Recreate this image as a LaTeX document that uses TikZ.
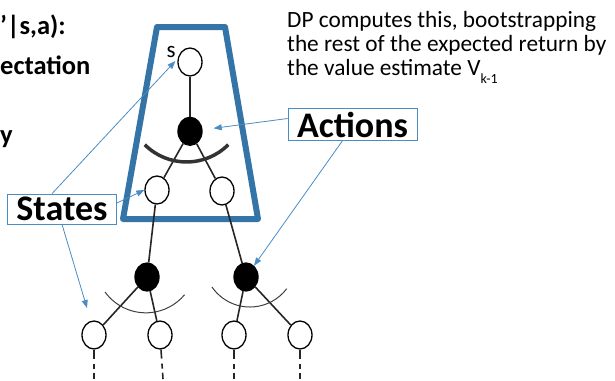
\documentclass[tikz,border=0pt]{standalone}
\usepackage{fontspec}
\setmainfont{Carlito}
\usepackage{tikz}
\usetikzlibrary{shapes.geometric}
\usetikzlibrary{arrows.meta}
\usetikzlibrary{positioning}
\definecolor{trapblue}{HTML}{3474A6}
\definecolor{callblue}{HTML}{4A8CC4}
\tikzset{
  StateNode/.style={ellipse,draw,line width=1.3pt,fill=white,minimum width=24pt,minimum height=28pt,inner sep=0pt},
  ActionNode/.style={StateNode,fill=black},
  Callout/.style={rectangle,draw=callblue,line width=0.8pt,font=\fontsize{36}{36}\selectfont\bfseries,inner xsep=9pt,inner ysep=3pt},
  Pointer/.style={draw=callblue,line width=0.8pt,-{Triangle[length=8pt,width=6pt]}},
  Branch/.style={line width=1.6pt,black!85},
  Cut/.style={anchor=base west,inner sep=0pt,font=\fontsize{26.5}{26.5}\selectfont\bfseries}
}

\begin{document}
\begin{tikzpicture}[x=1pt,y=1pt]
    \useasboundingbox (0,0) rectangle (615,-380);

    \node[Cut] (t1) at (0,-34) {’|s,a):};
    \node[Cut] (t2) at (0,-74) {ectation};
    \node[Cut] (t3) at (0,-143) {y};

    \draw[trapblue,line width=6pt,line join=round] (157,-27) -- (225,-27) -- (258,-219) -- (123,-219) -- cycle;

    \node[StateNode] (s) at (190,-62) {};
    \node[ActionNode,below=40pt of s] (a) {};
    \node[StateNode] (s1) at (157,-190) {};
    \node[StateNode] (s2) at (222,-191) {};
    \node[ActionNode] (a1) at (147,-277) {};
    \node[ActionNode] (a2) at (246,-277) {};
    \node[StateNode] (l1) at (94,-335) {};
    \node[StateNode] (l2) at (160,-335) {};
    \node[StateNode] (l3) at (234,-335) {};
    \node[StateNode] (l4) at (300,-335) {};
    \node[font=\fontsize{23}{23}\selectfont,left=2pt of s.north west] (slabel) {s};

    \coordinate (d1) at (94,-379);
    \coordinate (d2) at (163,-379);
    \coordinate (d3) at (234,-379);
    \coordinate (d4) at (300,-379);
    \coordinate (sdown) at (87,-308);

    \draw[Branch] (s) -- (a);
    \draw[Branch] (a) -- (s1);
    \draw[Branch] (a) -- (s2);
    \draw[Branch] (s1) -- (a1);
    \draw[Branch] (s2) -- (a2);
    \draw[Branch] (a1) -- (l1);
    \draw[Branch] (a1) -- (l2);
    \draw[Branch] (a2) -- (l3);
    \draw[Branch] (a2) -- (l4);
    \draw[Branch,dash pattern=on 9pt off 5pt on 5pt off 4pt] (l1) -- (d1);
    \draw[Branch,dash pattern=on 9pt off 5pt on 5pt off 4pt] (l2) -- (d2);
    \draw[Branch,dash pattern=on 9pt off 5pt on 5pt off 4pt] (l3) -- (d3);
    \draw[Branch,dash pattern=on 9pt off 5pt on 5pt off 4pt] (l4) -- (d4);

    \draw[line width=3.5pt,black!80] (144.8,-144.7) arc[start angle=-135,end angle=-45,radius=59];
    \draw[line width=1pt,black!75] (105,-292) arc[start angle=-144,end angle=-40,radius=50.5];
    \draw[line width=1pt,black!75] (212,-287) arc[start angle=-145.6,end angle=-37,radius=46];

    \node[Callout] (states) at (62,-209) {States};
    \node[Callout] (actions) at (352.5,-124.5) {Actions};

    \node[anchor=base west,align=left,inner sep=0pt,font=\fontsize{23.3}{24}\selectfont] (dp) at (287,-75)
      {DP computes this, bootstrapping\\the rest of the expected return by\\the value estimate V\raisebox{-8pt}{\fontsize{14}{14}\selectfont k-1}};

    \draw[Pointer] ([xshift=-10pt]states.north) -- ([xshift=-2pt,yshift=1pt]s.west);
    \draw[Pointer] ([yshift=6pt]states.east) -- (s1.west);
    \draw[Pointer] (states.south) -- (sdown);
    \draw[Pointer] ([yshift=6pt]actions.west) -- ([xshift=11pt,yshift=3pt]a.east);
    \draw[Pointer] ([xshift=-10pt]actions.south) -- (a2);
\end{tikzpicture}
\end{document}
